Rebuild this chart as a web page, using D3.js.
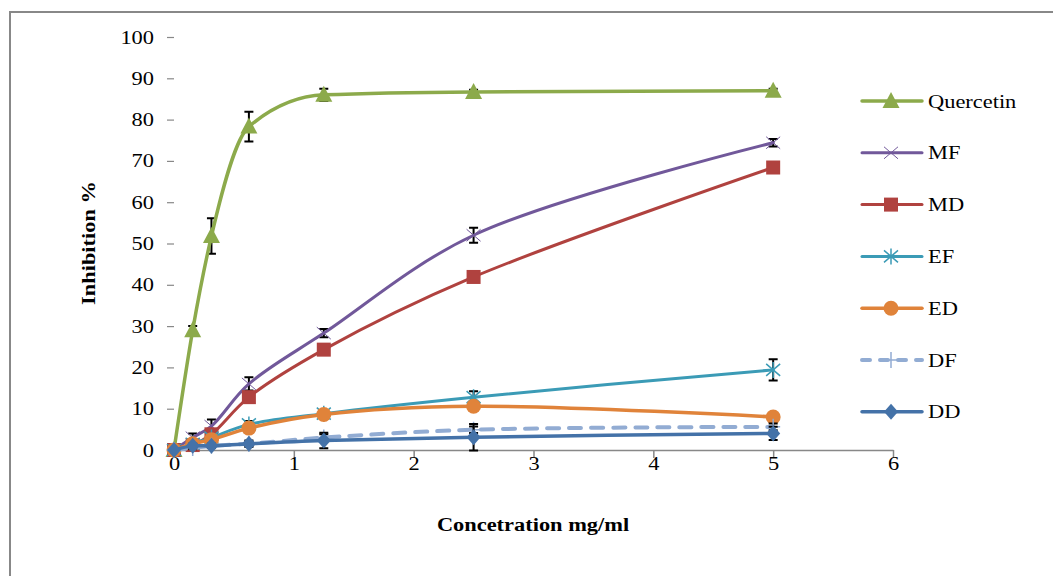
<!DOCTYPE html>
<html><head><meta charset="utf-8">
<script src="https://cdn.jsdelivr.net/npm/d3@7"></script>
<style>body{margin:0;background:#fff}svg{display:block}text{font-family:"Liberation Serif","DejaVu Serif",serif}</style>
</head><body><svg id="c" width="1053" height="576"></svg>
<script>
const xValues = [0, 0.156, 0.3125, 0.625, 1.25, 2.5, 5];
const seriesNames = ["Quercetin", "MF", "MD", "EF", "ED", "DF", "DD"];
const quercetin = [0, 29, 51.8, 78.3, 86.0, 86.7, 87.0];
const mf = [0, 3.0, 5.8, 16.0, 28.3, 52.0, 74.4];
const md = [0, 1.2, 3.8, 12.8, 24.3, 41.9, 68.4];
const ef = [0, 1.5, 3.0, 6.2, 8.8, 12.8, 19.4];
const ed = [0, 1.5, 2.5, 5.3, 8.6, 10.6, 8.0];
const df = [0, 0.5, 1.0, 1.5, 3.0, 4.9, 5.6];
const dd = [0, 1.0, 1.0, 1.5, 2.3, 3.1, 4.0];
const errQuercetin = [0, 1.0, 4.3, 3.6, 1.5, 0.5, 0.5];
const errMF = [0, 1.0, 1.6, 1.6, 1.0, 1.8, 0.9];
const errMD = [0, 0.5, 0.5, 0.8, 0.5, 0.8, 0.5];
const errEF = [0, 0.5, 0.5, 0.8, 0.8, 1.4, 2.6];
const errED = [0, 0.5, 0.5, 0.8, 0.8, 0.5, 0.5];
const errDF = [0, 0.3, 0.3, 0.5, 0.8, 0.8, 0.8];
const errDD = [0, 0.5, 0.5, 0.8, 1.9, 3.2, 1.6];
const xTicks = [0, 1, 2, 3, 4, 5, 6];
const yTicks = [0, 10, 20, 30, 40, 50, 60, 70, 80, 90, 100];
const xTitle = "Concetration mg/ml";
const yTitle = "Inhibition %";

const series = [
  {name: "Quercetin", v: quercetin, e: errQuercetin, color: "#8CAA4B", marker: "triangle", w: 3.5, mono: true},
  {name: "MF", v: mf, e: errMF, color: "#71589A", marker: "x", w: 3},
  {name: "MD", v: md, e: errMD, color: "#B0423F", marker: "square", w: 3},
  {name: "EF", v: ef, e: errEF, color: "#3B9BB6", marker: "star", w: 3},
  {name: "ED", v: ed, e: errED, color: "#E0833A", marker: "circle", w: 3.5},
  {name: "DF", v: df, e: errDF, color: "#92ACD3", marker: "plus", w: 4, dash: "12,10"},
  {name: "DD", v: dd, e: errDD, color: "#4472A8", marker: "diamond", w: 3.5}
];

const SX = 1.18; // horizontal stretch of the reference's text
const svg = d3.select("#c");
svg.append("rect").attr("x", 10).attr("y", 12).attr("width", 1060).attr("height", 600)
  .attr("fill", "#fff").attr("stroke", "#888").attr("stroke-width", 2);

const x = d3.scaleLinear().domain([0, 6]).range([174, 893]);
const y = d3.scaleLinear().domain([0, 100]).range([450, 37]);

// Y axis: ticks only, no line
const yAxis = svg.append("g").attr("transform", "translate(174,0)")
  .call(d3.axisLeft(y).tickValues(yTicks).tickSize(7).tickPadding(13));
yAxis.select(".domain").remove();
yAxis.selectAll(".tick line").attr("stroke", "#888").attr("stroke-width", 1.2);
yAxis.selectAll(".tick text").each(function() {
  const t = d3.select(this);
  const xx = +t.attr("x");
  t.attr("x", null).attr("transform", `translate(${xx},0) scale(${SX},1)`);
}).attr("font-size", 19).attr("fill", "#000");

// X axis
const xAxis = svg.append("g").attr("transform", "translate(0,450)")
  .call(d3.axisBottom(x).tickValues(xTicks).tickFormat(d3.format("d")).tickSize(8).tickPadding(0).tickSizeOuter(0));
xAxis.select(".domain").attr("stroke", "#888").attr("stroke-width", 1.5);
xAxis.selectAll(".tick line").attr("stroke", "#888").attr("stroke-width", 1.5);
xAxis.selectAll(".tick text").each(function() {
  const t = d3.select(this);
  const yy = +t.attr("y");
  t.attr("y", null).attr("transform", `translate(0,${yy - 2}) scale(${SX},1)`);
}).attr("font-size", 19).attr("fill", "#000");

svg.append("text").attr("transform", `translate(533,531) scale(${SX},1)`).attr("text-anchor", "middle")
  .attr("font-size", 19).attr("font-weight", "bold").text(xTitle);
svg.append("text").attr("transform", `translate(95,243) rotate(-90) scale(${SX},1)`).attr("text-anchor", "middle")
  .attr("font-size", 19).attr("font-weight", "bold").text(yTitle);

function drawMarker(g, type, cx, cy, color) {
  const m = g.append("g").attr("transform", `translate(${cx},${cy})`);
  if (type === "triangle") m.append("path").attr("d", "M0,-9L8.5,7L-8.5,7Z").attr("fill", color);
  else if (type === "square") m.append("rect").attr("x", -7).attr("y", -7).attr("width", 14).attr("height", 14).attr("fill", color);
  else if (type === "circle") m.append("circle").attr("r", 7.5).attr("fill", color);
  else if (type === "diamond") m.append("path").attr("d", "M0,-8L7,0L0,8L-7,0Z").attr("fill", color);
  else if (type === "x") m.append("path").attr("d", "M-7,-6L7,6M-7,6L7,-6").attr("stroke", color).attr("stroke-width", 1).attr("fill", "none");
  else if (type === "star") m.append("path").attr("d", "M-7,-6L7,6M-7,6L7,-6M0,-8L0,8").attr("stroke", color).attr("stroke-width", 1.5).attr("fill", "none");
  else if (type === "plus") m.append("path").attr("d", "M-7,0L7,0M0,-8L0,8").attr("stroke", color).attr("stroke-width", 1.5).attr("fill", "none");
}

const lineCR = d3.line().x((d, i) => x(xValues[i])).y(d => y(d)).curve(d3.curveCatmullRom.alpha(0.5));
const lineMono = d3.line().x((d, i) => x(xValues[i])).y(d => y(d)).curve(d3.curveMonotoneX);
const plot = svg.append("g");
series.forEach(s => {
  const g = plot.append("g");
  s.v.forEach((v, i) => {
    if (!s.e[i]) return;
    const cx = x(xValues[i]), t = y(v + s.e[i]), b = y(v - s.e[i]);
    g.append("path").attr("d", `M${cx},${t}L${cx},${b}M${cx-4.5},${t}L${cx+4.5},${t}M${cx-4.5},${b}L${cx+4.5},${b}`)
      .attr("stroke", "#000").attr("stroke-width", 2).attr("fill", "none");
  });
  g.append("path").datum(s.v).attr("d", s.mono ? lineMono : lineCR).attr("fill", "none").attr("stroke", s.color)
    .attr("stroke-width", s.w).attr("stroke-linecap", "round").attr("stroke-dasharray", s.dash || null);
  s.v.forEach((v, i) => drawMarker(g, s.marker, x(xValues[i]), y(v), s.color));
});

// Legend
const lg = svg.append("g");
series.forEach((s, i) => {
  const ly = 101 + i * 51.8;
  lg.append("line").attr("x1", 862).attr("x2", 922).attr("y1", ly).attr("y2", ly)
    .attr("stroke", s.color).attr("stroke-width", s.w).attr("stroke-linecap", "round")
    .attr("stroke-dasharray", s.dash ? "8,10" : null);
  drawMarker(lg, s.marker, 891, ly, s.color);
  lg.append("text").attr("transform", `translate(928,${ly}) scale(${SX},1)`).attr("dy", "0.35em")
    .attr("font-size", 19).text(s.name);
});
</script></body></html>
